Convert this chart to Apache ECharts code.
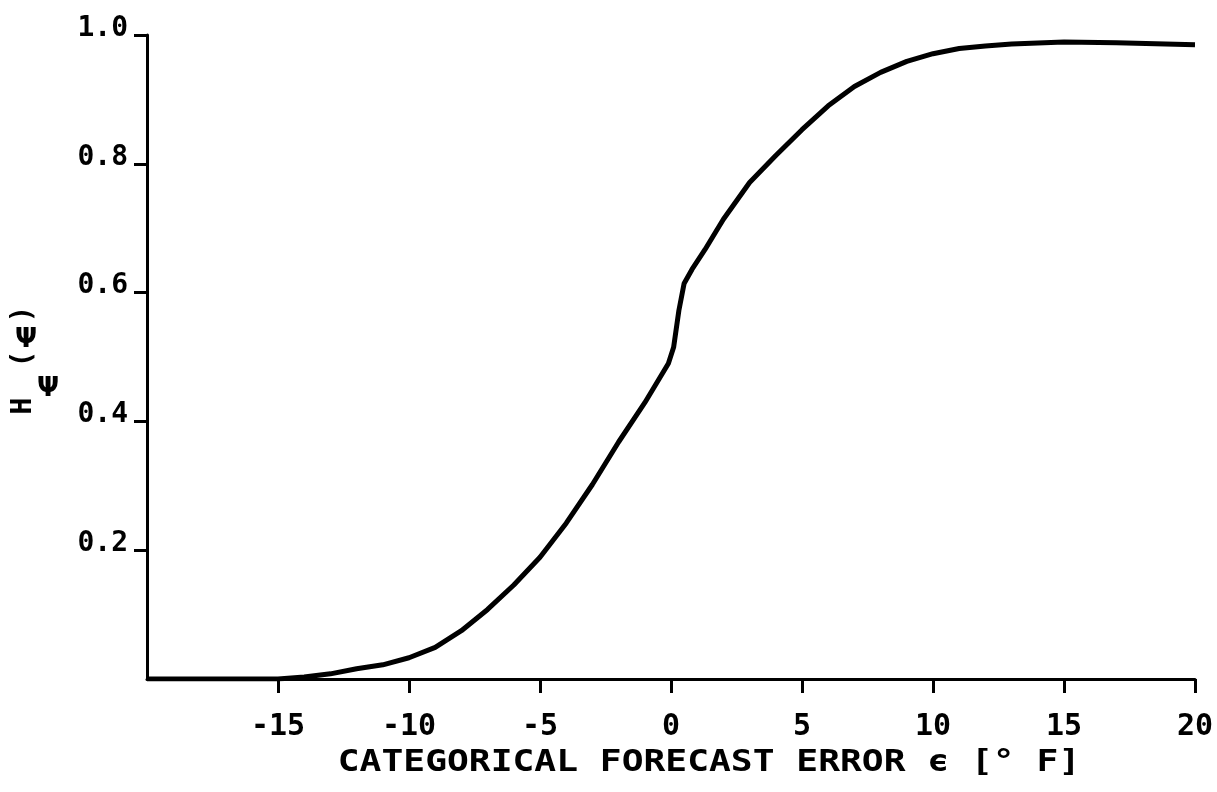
<!DOCTYPE html>
<html>
<head>
<meta charset="utf-8">
<script src="https://cdn.jsdelivr.net/npm/echarts@6/dist/echarts.min.js"></script>
<style>
  html, body { margin: 0; padding: 0; background: #fff; }
  #chart { width: 1217px; height: 792px; }
</style>
</head>
<body>
<div id="chart"></div>
<script>
// Forecast error (°F) and cumulative probability H_ψ(ψ)
const errorValues = [-20, -17, -15, -14, -13, -12, -11, -10, -9, -8, -7, -6, -5, -4, -3, -2, -1,
  -0.1, 0.1, 0.3, 0.5, 0.8, 1.3, 2, 3, 4, 5, 6, 7, 8, 9, 10, 11, 12, 13, 15, 17, 20];
const probability = [0, 0, 0, 0.003, 0.008, 0.016, 0.022, 0.033, 0.049, 0.075, 0.108, 0.146, 0.189,
  0.242, 0.302, 0.368, 0.429, 0.490, 0.515, 0.572, 0.614, 0.636, 0.667, 0.714, 0.771, 0.813,
  0.853, 0.890, 0.920, 0.942, 0.959, 0.971, 0.979, 0.983, 0.986, 0.989, 0.988, 0.985];

const xTickValues = [-15, -10, -5, 0, 5, 10, 15, 20];
const yTickValues = [0.2, 0.4, 0.6, 0.8, 1.0];
const xTitle = 'CATEGORICAL FORECAST ERROR ϵ [° F]';

const mono = '"DejaVu Sans Mono", monospace';
const ink = '#000';

const chart = echarts.init(document.getElementById('chart'), null, { renderer: 'canvas' });

function txt(text, x, y, size, rotation, family) {
  return {
    type: 'text', x: x, y: y, rotation: rotation || 0,
    style: {
      text: text, fill: ink,
      font: 'bold ' + size + 'px ' + (family || mono),
      align: 'center', verticalAlign: 'middle',
      textAlign: 'center', textVerticalAlign: 'middle'
    }
  };
}

chart.setOption({
  animation: false,
  backgroundColor: '#fff',
  grid: { left: 147, right: 22, top: 35, bottom: 113 },
  xAxis: {
    type: 'value', min: -20, max: 20,
    axisLine: { onZero: false, lineStyle: { color: ink, width: 3 } },
    axisTick: { show: true, customValues: xTickValues, length: 14, lineStyle: { color: ink, width: 3 } },
    axisLabel: {
      customValues: xTickValues, margin: 33, color: ink,
      fontFamily: mono, fontWeight: 'bold', fontSize: 30,
      formatter: v => String(v)
    },
    splitLine: { show: false }
  },
  yAxis: {
    type: 'value', min: 0, max: 1,
    axisLine: { show: true, onZero: false, lineStyle: { color: ink, width: 3 } },
    axisTick: { show: true, customValues: yTickValues, length: 13, lineStyle: { color: ink, width: 3 } },
    axisLabel: {
      customValues: yTickValues, margin: 19, color: ink,
      fontFamily: mono, fontWeight: 'bold', fontSize: 28,
      verticalAlign: 'bottom', lineHeight: 13,
      formatter: v => v.toFixed(1)
    },
    splitLine: { show: false }
  },
  series: [{
    type: 'line',
    data: errorValues.map((x, i) => [x, probability[i]]),
    showSymbol: false,
    smooth: false,
    lineStyle: { color: ink, width: 5 }
  }],
  graphic: [
    // y-axis title  H_ψ(ψ)
    txt('H', 24, 406, 28, Math.PI / 2),
    txt('Ψ', 48, 389, 26, 0, '"DejaVu Sans", sans-serif'),
    txt('(', 24, 359, 28, Math.PI / 2),
    txt('Ψ', 26, 340, 26, 0, '"DejaVu Sans", sans-serif'),
    txt(')', 24, 314, 28, Math.PI / 2),
    // x-axis title
    Object.assign(txt(xTitle, 709, 763, 31, 0), { scaleX: 1.17 })
  ]
});
</script>
</body>
</html>
